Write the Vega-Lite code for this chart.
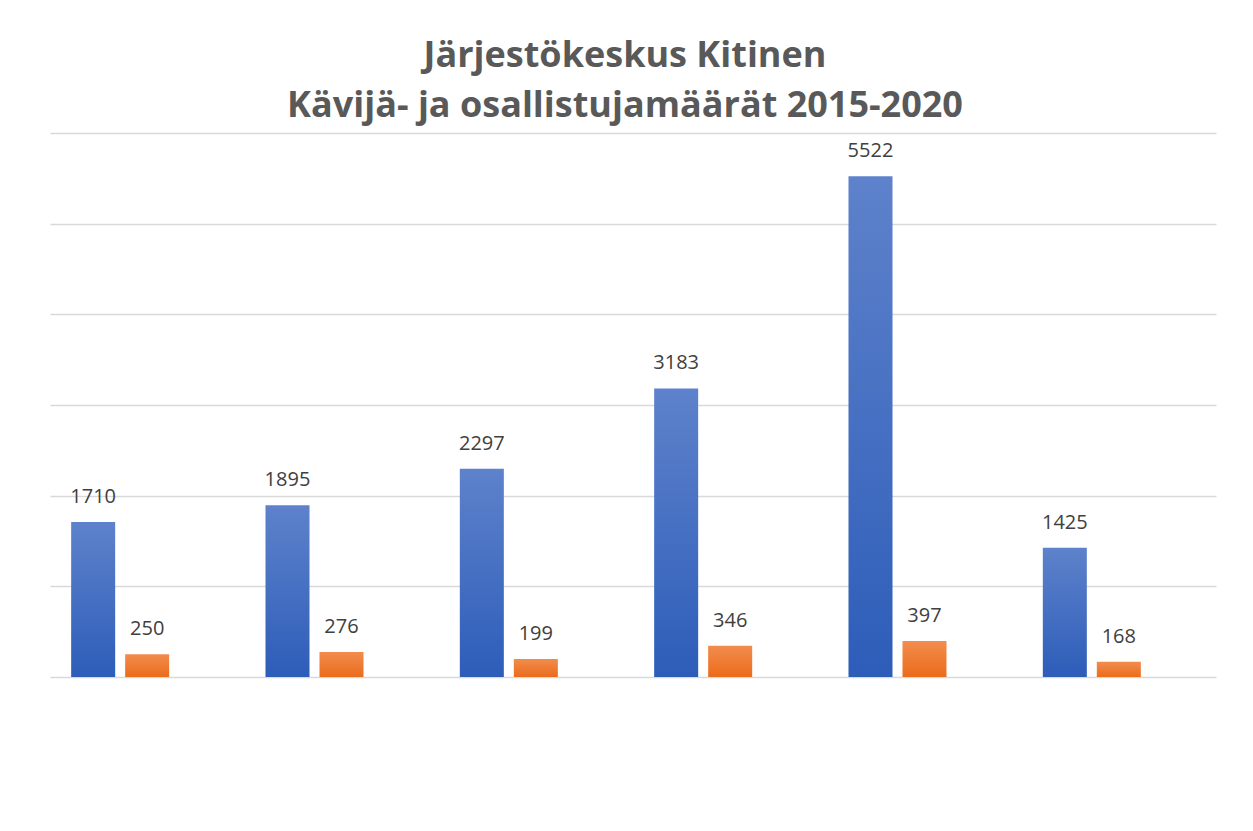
{
  "$schema": "https://vega.github.io/schema/vega-lite/v6.json",
  "width": 1166,
  "height": 544,
  "autosize": "none",
  "padding": {"left": 50, "top": 133, "right": 37, "bottom": 154},
  "background": "white",
  "title": {
    "text": ["Järjestökeskus Kitinen", "Kävijä- ja osallistujamäärät 2015-2020"],
    "anchor": "middle",
    "font": "Open Sans",
    "fontSize": 36,
    "fontWeight": "bold",
    "color": "#595959",
    "lineHeight": 50,
    "offset": 8,
    "dx": -8
  },
  "data": {
    "values": [
      {"vuosi": "2015", "sarja": "Kävijät", "maara": 1710},
      {"vuosi": "2015", "sarja": "Osallistujat", "maara": 250},
      {"vuosi": "2016", "sarja": "Kävijät", "maara": 1895},
      {"vuosi": "2016", "sarja": "Osallistujat", "maara": 276},
      {"vuosi": "2017", "sarja": "Kävijät", "maara": 2297},
      {"vuosi": "2017", "sarja": "Osallistujat", "maara": 199},
      {"vuosi": "2018", "sarja": "Kävijät", "maara": 3183},
      {"vuosi": "2018", "sarja": "Osallistujat", "maara": 346},
      {"vuosi": "2019", "sarja": "Kävijät", "maara": 5522},
      {"vuosi": "2019", "sarja": "Osallistujat", "maara": 397},
      {"vuosi": "2020", "sarja": "Kävijät", "maara": 1425},
      {"vuosi": "2020", "sarja": "Osallistujat", "maara": 168}
    ]
  },
  "encoding": {
    "x": {
      "field": "vuosi",
      "type": "nominal",
      "scale": {"paddingInner": 0.2177, "paddingOuter": 0.10885},
      "axis": null
    },
    "xOffset": {
      "field": "sarja",
      "type": "nominal",
      "scale": {"domain": ["Kävijät", "Osallistujat", "Muut"], "paddingInner": 0.185, "paddingOuter": 0}
    },
    "y": {
      "field": "maara",
      "type": "quantitative",
      "scale": {"domain": [0, 6000], "nice": false},
      "axis": {
        "values": [0, 1000, 2000, 3000, 4000, 5000, 6000],
        "labels": false,
        "ticks": false,
        "domain": false,
        "title": null,
        "grid": true,
        "gridColor": "#D9D9D9",
        "gridWidth": 1.5
      }
    }
  },
  "layer": [
    {
      "mark": {"type": "bar"},
      "encoding": {
        "color": {
          "condition": {
            "test": "datum.sarja === 'Kävijät'",
            "value": {
              "gradient": "linear", "x1": 0, "y1": 0, "x2": 0, "y2": 1,
              "stops": [{"offset": 0, "color": "#5E82CB"}, {"offset": 1, "color": "#2D5DB9"}]
            }
          },
          "value": {
            "gradient": "linear", "x1": 0, "y1": 0, "x2": 0, "y2": 1,
            "stops": [{"offset": 0, "color": "#F28C4E"}, {"offset": 1, "color": "#EB6C1B"}]
          }
        }
      }
    },
    {
      "mark": {"type": "text", "font": "Open Sans", "fontSize": 20, "color": "#404040", "baseline": "alphabetic", "dy": -19},
      "encoding": {"text": {"field": "maara", "type": "quantitative", "format": "d"}}
    }
  ],
  "config": {"view": {"stroke": null}}
}
